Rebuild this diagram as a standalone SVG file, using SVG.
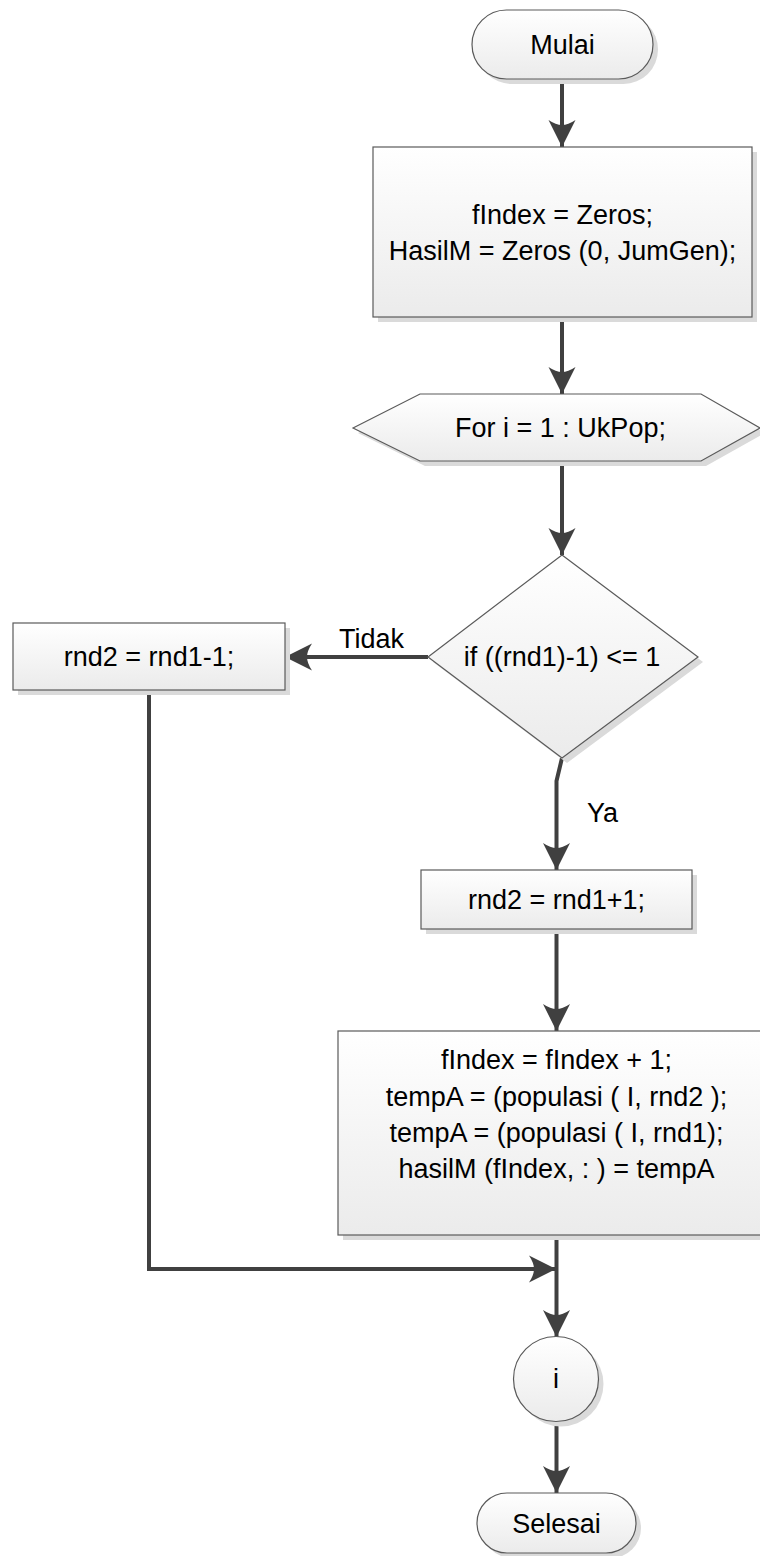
<svg xmlns="http://www.w3.org/2000/svg" width="760" height="1556" viewBox="0 0 760 1556">
<defs>
<linearGradient id="g" x1="0" y1="0" x2="0" y2="1">
<stop offset="0" stop-color="#ffffff"/>
<stop offset="1" stop-color="#ebebeb"/>
</linearGradient>
<marker id="ah" markerUnits="userSpaceOnUse" viewBox="-28 -15 30 30" markerWidth="30" markerHeight="30" refX="0" refY="0" orient="auto">
<path d="M0,0 L-27,-13.5 Q-22,-6 -22,0 Q-22,6 -27,13.5 Z" fill="#404040"/>
</marker>
<style>
.sh{fill:#dadada;stroke:none}
.nd{fill:url(#g);stroke:#5a5a5a;stroke-width:1.2}
.t{font-family:"Liberation Sans",Arial,sans-serif;font-size:27px;fill:#000;text-anchor:middle}
.lb{font-family:"Liberation Sans",Arial,sans-serif;font-size:27px;fill:#000}
.c{fill:none;stroke:#404040;stroke-width:4;marker-end:url(#ah)}
.cn{fill:none;stroke:#404040;stroke-width:4}
</style>
</defs>
<g id="connectors">
<line class="c" x1="562" y1="79" x2="562" y2="147"/>
<line class="c" x1="562" y1="317" x2="562" y2="394"/>
<line class="c" x1="562" y1="461" x2="562" y2="555"/>
<line class="c" x1="428" y1="657" x2="285" y2="657"/>
<path class="c" d="M562,758 L556.5,781 L556.5,870"/>
<line class="c" x1="556.5" y1="929" x2="556.5" y2="1031"/>
<line class="c" x1="556.5" y1="1235" x2="556.5" y2="1337"/>
<path class="c" d="M149,690 L149,1269 L556,1269"/>
<line class="c" x1="556.5" y1="1422" x2="556.5" y2="1493"/>
<text class="lb" x="339" y="648">Tidak</text>
<text class="lb" x="587" y="822">Ya</text>
</g>
<g id="mulai">
<rect class="sh" x="477" y="15" width="181" height="69" rx="34.5"/>
<rect class="nd" x="472" y="10" width="181" height="69" rx="34.5"/>
<text class="t" x="562.5" y="54">Mulai</text>
</g>
<g id="init">
<rect class="sh" x="378" y="152" width="379" height="170"/>
<rect class="nd" x="373" y="147" width="379" height="170"/>
<text class="t" x="562.5" y="224">fIndex = Zeros;</text>
<text class="t" x="562.5" y="260">HasilM = Zeros (0, JumGen);</text>
</g>
<g id="loop">
<polygon class="sh" points="358,433 425,399 706,399 765,433 706,466 425,466"/>
<polygon class="nd" points="353,428 420,394 701,394 760,428 701,461 420,461"/>
<text class="t" x="560.5" y="437">For i = 1 : UkPop;</text>
</g>
<g id="decision">
<polygon class="sh" points="567,560 703,662 567,763 433,662"/>
<polygon class="nd" points="562,555 698,657 562,758 428,657"/>
<text class="t" x="562" y="666">if ((rnd1)-1) &lt;= 1</text>
</g>
<g id="minus">
<rect class="sh" x="18" y="628" width="272" height="67"/>
<rect class="nd" x="13" y="623" width="272" height="67"/>
<text class="t" x="149" y="666">rnd2 = rnd1-1;</text>
</g>
<g id="plus">
<rect class="sh" x="426" y="875" width="271" height="59"/>
<rect class="nd" x="421" y="870" width="271" height="59"/>
<text class="t" x="556.5" y="909">rnd2 = rnd1+1;</text>
</g>
<g id="process">
<rect class="sh" x="343" y="1036" width="437" height="204"/>
<rect class="nd" x="338" y="1031" width="437" height="204"/>
<text class="t" x="556.5" y="1069">fIndex = fIndex + 1;</text>
<text class="t" x="556.5" y="1106">tempA = (populasi ( I, rnd2 );</text>
<text class="t" x="556.5" y="1142">tempA = (populasi ( I, rnd1);</text>
<text class="t" x="556.5" y="1178">hasilM (fIndex, : ) = tempA</text>
</g>
<g id="conn-i">
<circle class="sh" cx="561" cy="1384" r="42.5"/>
<circle class="nd" cx="556" cy="1379" r="42.5"/>
<text class="t" x="556" y="1388">i</text>
</g>
<g id="selesai">
<rect class="sh" x="482" y="1498" width="159" height="60" rx="30"/>
<rect class="nd" x="477" y="1493" width="159" height="60" rx="30"/>
<text class="t" x="556.5" y="1533">Selesai</text>
</g>
</svg>
